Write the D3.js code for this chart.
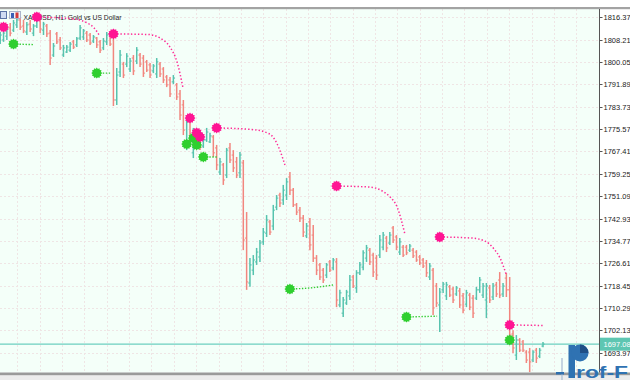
<!DOCTYPE html>
<html><head><meta charset="utf-8">
<script src="https://cdn.jsdelivr.net/npm/d3@7"></script>
<style>html,body{margin:0;padding:0;background:#fff;}svg{display:block;}</style>
</head><body>
<svg id="c" width="630" height="380"></svg>
<script>
// ---- data ----
const title = "XAUUSD, H1:  Gold vs US Dollar";
const priceTicks = [1816.37,1808.21,1800.05,1791.89,1783.73,1775.57,1767.41,1759.25,1751.09,1742.93,1734.77,1726.61,1718.45,1710.29,1702.13,1693.97];
const lastPrice = 1697.08;

const opens = [1807.7,1808.1,1809.5,1812.5,1811.7,1813.6,1815.4,1813.2,1811.0,1813.9,1810.6,1813.2,1815.4,1811.7,1813.2,1810.6,1802.6,1810.3,1808.1,1802.6,
1803.7,1804.4,1807.4,1806.3,1808.8,1809.2,1810.6,1809.9,1807.7,1808.8,1807.4,1805.2,1807.4,1810.3,1809.2,1786.2,1796.4,1799.3,1799.3,1797.5,
1801.5,1800.4,1802.6,1801.5,1800.1,1799.0,1796.8,1795.7,1799.3,1797.5,1794.6,1793.5,1792.8,1791.7,1788.4,1784.4,1769.8,1778.2,1766.9,1774.2,
1773.4,1769.4,1771.6,1770.9,1772.7,1768.7,1759.9,1762.5,1758.8,1768.7,1766.1,1763.6,1759.6,1763.2,1735.8,1719.4,1724.1,1727.1,1728.9,1734.4,
1737.6,1741.7,1740.2,1747.1,1751.5,1749.7,1751.5,1758.1,1753.3,1747.9,1746.0,1743.1,1736.6,1741.7,1736.9,1728.5,1726.0,1724.1,1722.3,1727.1,
1724.9,1727.1,1711.4,1708.4,1712.1,1714.7,1721.6,1717.6,1723.1,1725.2,1728.5,1731.4,1729.6,1728.5,1729.6,1732.5,1735.8,1734.0,1739.5,1736.2,
1730.7,1732.5,1732.5,1731.4,1731.4,1730.7,1728.9,1727.8,1726.7,1721.6,1724.1,1718.3,1711.4,1716.9,1714.7,1718.0,1717.2,1715.4,1716.5,1714.7,
1711.7,1715.0,1713.9,1713.9,1716.9,1715.0,1713.2,1717.6,1714.3,1718.7,1720.5,1715.4,1721.2,1716.9,1700.8,1693.1,1698.6,1697.9,1694.2,1694.2,
1691.3,1694.9,1692.7,1696.4];
const highs = [1811.0,1811.7,1812.8,1814.3,1815.4,1816.5,1816.1,1815.4,1814.7,1815.4,1813.9,1817.2,1816.1,1814.7,1813.9,1811.7,1807.0,1811.0,1809.2,1806.3,
1806.3,1807.4,1808.1,1809.2,1813.6,1812.1,1811.4,1810.6,1809.9,1809.2,1808.1,1808.8,1811.0,1811.0,1810.3,1797.9,1804.4,1800.1,1803.3,1801.5,
1802.6,1805.5,1803.3,1802.6,1800.8,1799.7,1799.3,1801.5,1800.1,1798.2,1795.3,1794.6,1795.3,1792.4,1789.8,1786.2,1780.0,1779.6,1776.0,1775.2,
1774.5,1772.7,1776.0,1774.2,1773.4,1769.8,1765.0,1763.2,1768.7,1770.5,1767.9,1765.4,1767.2,1764.3,1745.3,1728.5,1729.6,1732.2,1735.1,1739.5,
1744.2,1742.4,1747.9,1751.5,1752.3,1755.2,1757.7,1759.9,1754.1,1748.6,1747.1,1744.2,1741.3,1743.1,1740.6,1729.6,1726.7,1724.9,1726.7,1727.8,
1728.5,1728.5,1716.9,1714.3,1716.9,1722.3,1722.3,1724.1,1727.1,1731.4,1733.3,1732.2,1730.4,1729.6,1736.9,1738.0,1736.6,1738.0,1740.2,1736.9,
1735.8,1733.3,1733.3,1733.6,1732.2,1731.4,1729.6,1728.5,1727.8,1726.7,1724.9,1719.4,1717.6,1719.8,1719.8,1718.7,1718.0,1718.3,1717.6,1715.8,
1716.9,1715.8,1715.0,1718.0,1721.6,1719.4,1719.4,1718.7,1719.4,1719.8,1723.4,1719.4,1723.1,1721.6,1702.2,1700.4,1699.3,1698.6,1694.9,1695.7,
1694.9,1695.7,1695.7,1697.9];
const lows = [1806.6,1807.4,1808.1,1809.5,1811.0,1812.5,1811.7,1810.6,1809.9,1811.0,1809.5,1812.5,1810.6,1809.9,1809.2,1799.0,1801.9,1806.6,1804.4,1801.9,
1803.3,1803.7,1804.8,1805.5,1808.1,1808.1,1807.4,1806.3,1807.0,1805.2,1803.3,1804.4,1806.3,1805.9,1784.0,1784.4,1794.6,1794.2,1798.2,1796.4,
1795.3,1799.3,1798.2,1794.6,1796.4,1794.2,1796.0,1794.2,1794.6,1792.4,1790.9,1787.3,1792.0,1786.2,1778.9,1773.4,1767.9,1770.9,1765.0,1769.4,
1767.9,1768.7,1770.9,1770.5,1765.4,1760.6,1758.8,1755.2,1757.7,1763.2,1759.9,1757.7,1757.7,1731.4,1716.9,1718.0,1722.3,1726.0,1727.1,1733.3,
1736.2,1736.9,1738.7,1746.0,1747.1,1747.9,1749.7,1751.5,1747.1,1744.2,1741.7,1736.2,1735.8,1731.4,1727.1,1722.3,1720.5,1719.4,1721.2,1723.4,
1724.1,1710.6,1710.6,1707.0,1711.4,1713.2,1717.6,1715.8,1722.3,1724.1,1727.1,1726.0,1721.6,1720.5,1728.5,1731.4,1730.7,1733.3,1734.0,1731.4,
1729.6,1728.9,1729.6,1730.7,1728.5,1727.1,1726.0,1724.9,1721.6,1720.5,1707.7,1710.6,1701.5,1715.8,1713.2,1714.3,1712.1,1714.7,1710.3,1708.4,
1710.6,1709.5,1706.6,1713.2,1715.8,1713.9,1706.6,1712.1,1713.2,1714.3,1713.9,1714.3,1714.3,1698.6,1693.9,1691.3,1694.2,1694.2,1690.2,1686.9,
1690.6,1690.2,1692.0,1696.0];
const closes = [1809.9,1810.6,1812.1,1810.6,1814.3,1815.4,1812.8,1811.4,1813.6,1812.1,1813.2,1816.1,1812.1,1813.9,1810.3,1801.5,1805.9,1807.4,1805.2,1805.2,
1805.5,1806.6,1805.5,1808.5,1812.5,1811.4,1808.1,1807.0,1809.2,1806.3,1804.4,1807.7,1809.9,1806.6,1786.2,1795.3,1802.6,1795.3,1802.2,1800.4,
1796.8,1804.4,1799.3,1796.0,1797.1,1795.3,1798.6,1800.1,1795.7,1793.5,1791.7,1788.4,1794.2,1787.3,1780.7,1775.2,1778.2,1772.3,1774.5,1770.5,
1769.0,1771.6,1774.5,1773.1,1766.9,1762.5,1763.6,1757.0,1767.9,1764.3,1761.4,1758.8,1766.1,1735.1,1719.8,1726.0,1727.8,1730.7,1734.0,1738.0,
1742.4,1738.0,1746.0,1750.4,1748.6,1753.3,1756.3,1753.3,1747.9,1745.3,1743.1,1738.0,1740.2,1733.3,1728.5,1724.1,1721.6,1720.5,1726.0,1724.1,
1727.8,1713.2,1715.8,1713.2,1716.1,1720.5,1718.3,1723.1,1726.0,1730.4,1732.2,1727.1,1723.4,1722.3,1735.1,1736.9,1732.2,1736.9,1735.1,1732.5,
1734.4,1729.6,1730.4,1732.9,1729.3,1727.8,1726.7,1725.6,1723.1,1725.6,1710.3,1712.1,1716.1,1719.0,1718.7,1715.0,1713.2,1717.6,1711.4,1709.5,
1715.8,1710.6,1708.4,1716.9,1720.5,1718.3,1718.3,1713.2,1718.3,1715.4,1715.0,1718.3,1716.9,1700.4,1695.7,1698.6,1694.9,1694.9,1691.3,1690.6,
1694.2,1692.0,1694.9,1697.1];

// signal markers: [bar index, price]
const pinkStars = [[1,1812.8],[11,1816.5],[34,1810.3],[57,1779.6],[59,1774.2],[60,1772.7],[65,1776.0],[101,1754.8],[132,1736.2],[153,1704.1]];
const greenStars = [[4,1806.6],[29,1796.0],[56,1770.1],[58,1772.3],[59,1769.8],[61,1765.4],[87,1717.2],[122,1707.0],[153,1698.6]];

// dotted trails: list of [bar, price] points
const pinkTrails = [
  [[11,1816.5],[22.5,1815.7],[26.1,1814.3],[28.2,1812.5],[29.7,1809.9]],
  [[34,1810.3],[44.4,1810.1],[48,1808.8],[51,1805.5],[53.1,1800.1],[54.9,1790.6]],
  [[65,1776.0],[75.6,1775.4],[79.5,1774.5],[81.9,1772.7],[83.7,1768.7],[85.5,1762.5]],
  [[101,1754.8],[111.1,1754.4],[114.7,1753.0],[117.1,1750.8],[119.2,1747.1],[121.6,1736.9]],
  [[132,1736.2],[141.7,1735.8],[145.6,1734.7],[148.3,1731.8],[150.1,1728.5],[151.9,1722.7]],
  [[153,1704.1],[163,1703.9]]
];
const greenTrails = [
  [[4,1806.6],[9.9,1806.4]],
  [[29,1796.0],[33,1796.0]],
  [[61,1765.4],[65.1,1765.4]],
  [[87,1717.2],[93,1717.6],[100,1718.7]],
  [[122,1707.0],[131.2,1707.3]]
];

// ---- chart ----
const svg = d3.select("#c");
const plotRight = 599, plotTop = 9, plotBottom = 372.5;
const x = d3.scaleLinear().domain([0, 163]).range([0.2, 543.0]);
const y = d3.scaleLinear().domain([1693.97, 1816.37]).range([352.7, 17.3]);

svg.append("rect").attr("x",0).attr("y",0).attr("width",630).attr("height",380).attr("fill","#ffffff");
svg.append("rect").attr("x",0).attr("y",plotTop).attr("width",plotRight).attr("height",plotBottom-plotTop).attr("fill","#f4fff9");

// grid
const gridStep = y(priceTicks[1]) - y(priceTicks[0]);
const g = svg.append("g").attr("stroke","#efe5e5").attr("stroke-width",1).attr("stroke-dasharray","2,2");
priceTicks.forEach(p => {
  g.append("line").attr("x1",0).attr("x2",plotRight).attr("y1",Math.round(y(p))+0.5).attr("y2",Math.round(y(p))+0.5);
});
for (let gx = y(priceTicks[0]); gx < plotRight - 5; gx += gridStep) {
  g.append("line").attr("x1",Math.round(gx)+0.5).attr("x2",Math.round(gx)+0.5).attr("y1",plotTop).attr("y2",plotBottom);
}

// current price line
svg.append("line").attr("x1",0).attr("x2",plotRight).attr("y1",y(lastPrice)).attr("y2",y(lastPrice))
  .attr("stroke","#6ccfbf").attr("stroke-width",1.2);

// bars
const bars = opens.map((o,i)=>({i, o, h:highs[i], l:lows[i], c:closes[i]}));
const bg = svg.append("g").attr("stroke-width",1.5);
bars.forEach(b => {
  const col = b.c >= b.o ? "#56c3ae" : "#f2867f";
  const cx = x(b.i);
  bg.append("line").attr("x1",cx).attr("x2",cx).attr("y1",y(b.h)).attr("y2",y(b.l)).attr("stroke",col);
  bg.append("line").attr("x1",cx-1.7).attr("x2",cx).attr("y1",y(b.o)).attr("y2",y(b.o)).attr("stroke",col).attr("stroke-width",1);
  bg.append("line").attr("x1",cx).attr("x2",cx+1.7).attr("y1",y(b.c)).attr("y2",y(b.c)).attr("stroke",col).attr("stroke-width",1);
});

// title
svg.append("rect").attr("x",0.5).attr("y",11.5).attr("width",6).attr("height",7).attr("fill","#cfdcf2").attr("stroke","#5b74a6").attr("stroke-width",1);
svg.append("rect").attr("x",9.5).attr("y",11.5).attr("width",11).attr("height",7).attr("fill","#eef2fa").attr("stroke","#9aa6c0").attr("stroke-width",0.8);
svg.append("rect").attr("x",11).attr("y",13).attr("width",3).attr("height",5).attr("fill","#3b5fb5");
svg.append("rect").attr("x",15.5).attr("y",12.5).attr("width",3).attr("height",5.5).attr("fill","#d43a3a");
svg.append("text").attr("x",23.5).attr("y",19.6).attr("font-family","Liberation Sans, Arial, sans-serif")
  .attr("font-size","7.6px").attr("fill","#1e1e1e").attr("textLength",98).attr("lengthAdjust","spacingAndGlyphs").text(title);

// trails
const line = d3.line().x(d=>x(d[0])).y(d=>y(d[1])).curve(d3.curveMonotoneX);
pinkTrails.forEach(t => svg.append("path").attr("d",line(t)).attr("fill","none").attr("stroke","#ff2b96")
  .attr("stroke-width",1.5).attr("stroke-dasharray","1.4,2.1"));
greenTrails.forEach(t => svg.append("path").attr("d",line(t)).attr("fill","none").attr("stroke","#33cc33")
  .attr("stroke-width",1.4).attr("stroke-dasharray","1.4,1.6"));

// stars
function starPath(cx, cy) {
  const pts = [];
  for (let k = 0; k < 24; k++) {
    const a = k * Math.PI / 12;
    const r = k % 2 ? 4.3 : 5.5;
    pts.push([cx + r*Math.cos(a), cy + r*Math.sin(a)]);
  }
  return "M" + pts.map(p=>p.join(",")).join("L") + "Z";
}
greenStars.forEach(s => svg.append("path").attr("d",starPath(x(s[0]), y(s[1]))).attr("fill","#2fcf2f"));
pinkStars.forEach(s => svg.append("path").attr("d",starPath(x(s[0]), y(s[1]))).attr("fill","#ff1493"));

// borders
svg.append("rect").attr("x",0).attr("y",7).attr("width",630).attr("height",2.2).attr("fill","#a3a3a3");
svg.append("rect").attr("x",0).attr("y",372.5).attr("width",630).attr("height",3).attr("fill","#9a9a9a");
svg.append("rect").attr("x",0).attr("y",375.5).attr("width",630).attr("height",4.5).attr("fill","#ececec");

// axis
svg.append("line").attr("x1",plotRight+0.5).attr("x2",plotRight+0.5).attr("y1",plotTop).attr("y2",plotBottom).attr("stroke","#555").attr("stroke-width",1);
const ax = svg.append("g").attr("font-family","Liberation Sans, Arial, sans-serif").attr("font-size","7.5px").attr("fill","#222");
priceTicks.forEach(p => {
  const yy = Math.round(y(p))+0.5;
  ax.append("line").attr("x1",plotRight).attr("x2",plotRight+3.5).attr("y1",yy).attr("y2",yy).attr("stroke","#555");
  ax.append("text").attr("x",plotRight+4.5).attr("y",yy).attr("dy","0.35em").text(p.toFixed(2));
});
// last price label
const ly = y(lastPrice);
svg.append("rect").attr("x",plotRight+1).attr("y",ly-6.5).attr("width",31).attr("height",13).attr("fill","#5ec6b2");
svg.append("text").attr("x",plotRight+4.5).attr("y",ly).attr("dy","0.35em").attr("font-family","Liberation Sans, Arial, sans-serif")
  .attr("font-size","7.5px").attr("fill","#ffffff").text(lastPrice.toFixed(2));

// watermark logo
const lg = svg.append("g");
lg.append("line").attr("x1",562).attr("x2",562).attr("y1",358).attr("y2",380).attr("stroke","#b5c6d8").attr("stroke-width",1.5);
lg.append("rect").attr("x",556).attr("y",372).attr("width",8).attr("height",2.5).attr("fill","#2f6fae");
lg.append("rect").attr("x",568.5).attr("y",345).attr("width",6.5).attr("height",33).attr("fill","#2f72b2");
lg.append("circle").attr("cx",580).attr("cy",353).attr("r",8.5).attr("fill","#2f72b2");
lg.append("path").attr("d","M580,353 L580,344.5 A8.5,8.5 0 0 1 588.5,353 Z").attr("fill","#1f4f86");
lg.append("text").attr("x",576).attr("y",377.5).attr("font-family","Liberation Sans, Arial, sans-serif").attr("font-weight","bold")
  .attr("font-size","17px").attr("fill","#2f72b2").attr("textLength",52).attr("lengthAdjust","spacingAndGlyphs").text("rof-F");
</script>
</body></html>
